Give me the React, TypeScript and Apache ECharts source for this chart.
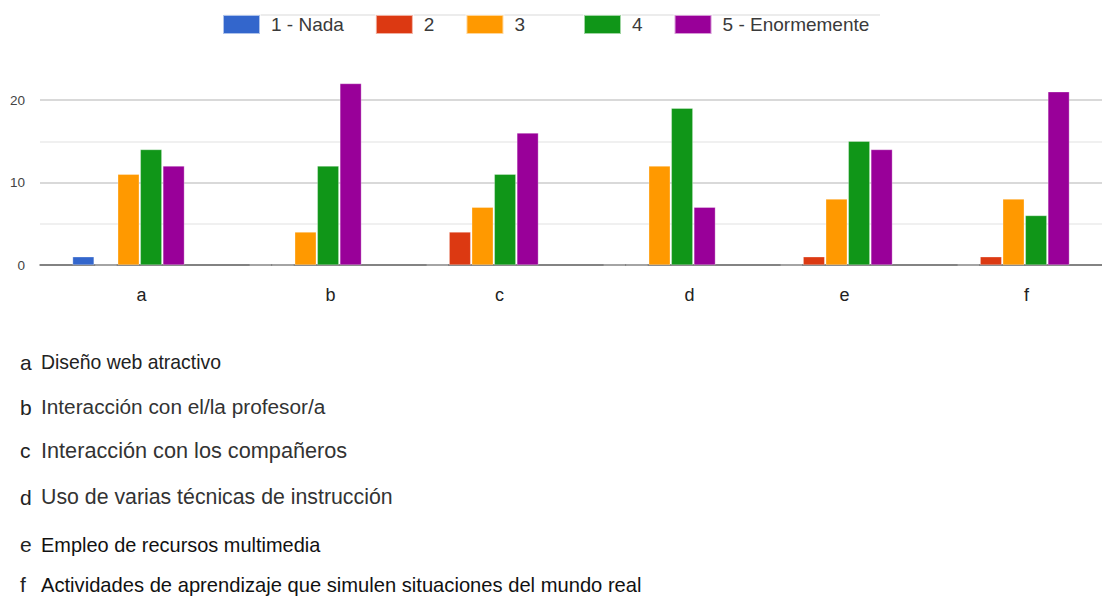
import React, { useEffect, useRef } from "react";
import * as echarts from "echarts";

// Survey responses per item (counts), one array per rating level
const categories = ["a", "b", "c", "d", "e", "f"];
const seriesNames = ["1 - Nada", "2", "3", "4", "5 - Enormemente"];
const nada = [1, 0, 0, 0, 0, 0];
const dos = [0, 0, 4, 0, 1, 1];
const tres = [11, 4, 7, 12, 8, 8];
const cuatro = [14, 12, 11, 19, 15, 6];
const enormemente = [12, 22, 16, 7, 14, 21];
const yTickLabels = ["0", "10", "20"];

// Item descriptions listed under the chart
const itemKeys = ["a", "b", "c", "d", "e", "f"];
const itemTexts = [
  "Diseño web atractivo",
  "Interacción con el/la profesor/a",
  "Interacción con los compañeros",
  "Uso de varias técnicas de instrucción",
  "Empleo de recursos multimedia",
  "Actividades de aprendizaje que simulen situaciones del mundo real",
];

const colors = ["#3366cc", "#dc3912", "#ff9900", "#109618", "#990099"];
const labelShift = [13, 25, 17, 30, 8, 13];
const itemRows = [362, 407, 450, 497, 544, 584];
const itemFontSize = [20, 20, 21.7, 21.3, 21, 21];
const itemScaleX = [0.97, 1.04, 1.0, 1.0, 0.95, 0.96];
const itemColor = ["#222", "#333", "#333", "#333", "#111", "#111"];

export default function App() {
  const ref = useRef<HTMLDivElement>(null);

  useEffect(() => {
    if (!ref.current) return;
    const chart = echarts.init(ref.current, null, { renderer: "svg" });
    const values = [nada, dos, tres, cuatro, enormemente];
    const font = "'Liberation Sans', Arial, sans-serif";

    const listGraphics: any[] = [];
    itemKeys.forEach((k, i) => {
      listGraphics.push({
        type: "text",
        x: 20,
        y: itemRows[i],
        style: { text: k, fill: "#222", font: `21px ${font}`, textVerticalAlign: "middle" },
      });
      listGraphics.push({
        type: "text",
        x: 41,
        y: itemRows[i],
        scaleX: itemScaleX[i],
        style: {
          text: itemTexts[i],
          fill: itemColor[i],
          font: `${itemFontSize[i]}px ${font}`,
          textVerticalAlign: "middle",
        },
      });
    });

    const legendBase = {
      top: 9,
      itemWidth: 37,
      itemHeight: 19,
      itemGap: 31,
      icon: "rect",
      textStyle: { fontSize: 19, color: "#3a3a3a", padding: [0, 0, 0, 6] },
    };

    chart.setOption({
      animation: false,
      color: colors,
      textStyle: { fontFamily: font },
      legend: [
        { ...legendBase, left: 217, data: seriesNames.slice(0, 3) },
        { ...legendBase, left: 578, data: seriesNames.slice(3) },
      ],
      grid: { left: 40, top: 265 - 25 * 8.25, width: 1068, height: 25 * 8.25 },
      xAxis: {
        type: "category",
        data: categories.map((c, i) => ({
          value: c,
          textStyle: { padding: [0, 0, 0, labelShift[i] * 2] },
        })),
        axisLine: { lineStyle: { color: "#666", width: 1.5 } },
        axisTick: { show: false },
        axisLabel: { fontSize: 18, color: "#222", margin: 21 },
      },
      yAxis: {
        type: "value",
        min: 0,
        max: 25,
        interval: 5,
        axisLine: { show: false },
        axisTick: { show: false },
        axisLabel: {
          fontSize: 13.5,
          color: "#444",
          margin: 15,
          formatter: (v: number) => (yTickLabels.includes(String(v)) ? String(v) : ""),
        },
        splitLine: {
          showMaxLine: false,
          lineStyle: { color: ["#cccccc", "#ebebeb"], width: 1.5 },
        },
      },
      series: seriesNames.map((name, i) => ({
        name,
        type: "bar",
        data: values[i],
        barWidth: 21.5,
        barGap: "5%",
        itemStyle: { borderColor: "rgba(255,255,255,0.6)", borderWidth: 0.5 },
      })),
      graphic: [
        {
          type: "line",
          shape: { x1: 224, y1: 15, x2: 880, y2: 15 },
          style: { stroke: "#e6e6e6", lineWidth: 1.5 },
          z: -1,
        },
        ...listGraphics,
      ],
    });

    return () => chart.dispose();
  }, []);

  return (
    <div
      ref={ref}
      style={{ position: "absolute", left: 0, top: 0, width: 1102, height: 597, background: "#fff" }}
    />
  );
}
